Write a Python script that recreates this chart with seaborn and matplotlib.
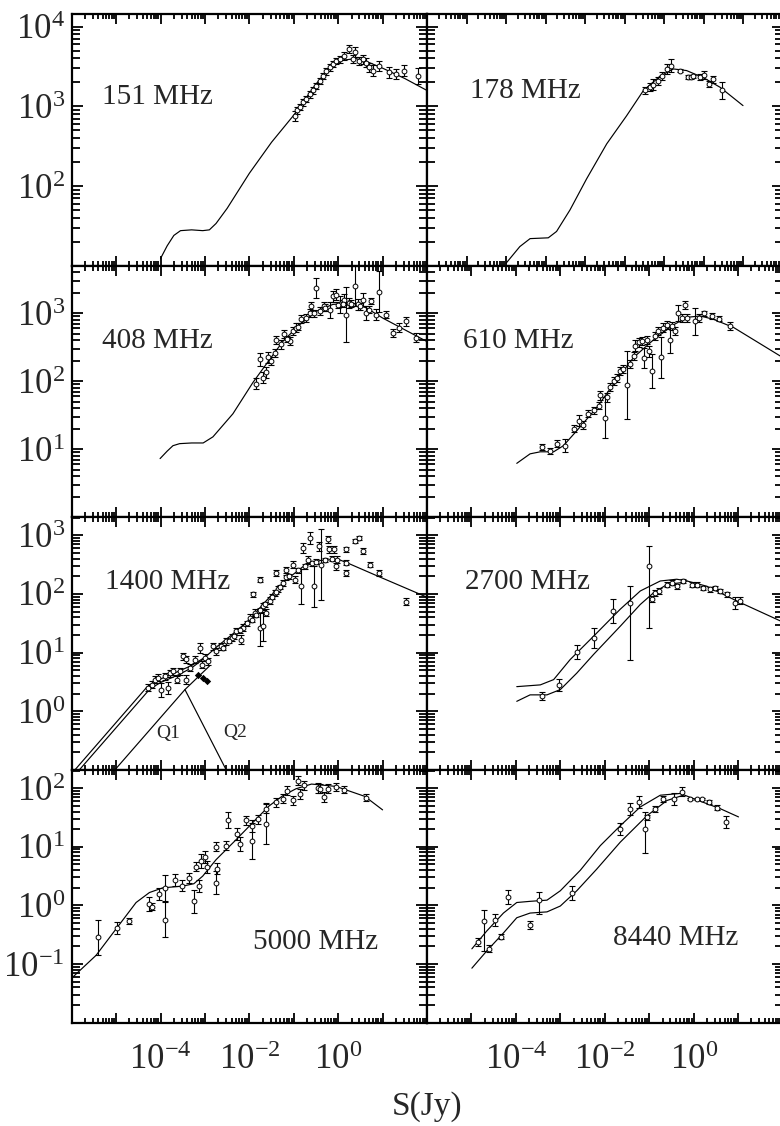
import numpy as np
import matplotlib
matplotlib.use("Agg")
import matplotlib.pyplot as plt
import seaborn as sns
from matplotlib.ticker import FixedLocator, LogLocator, NullFormatter

# ---------- DATA (log10 S[Jy], log10 counts) ----------
# model curves
c151_s = [-4.0, -3.85, -3.7, -3.55, -3.3, -3.05, -2.9, -2.75, -2.5, -2.0, -1.5, -1.0, -0.5, -0.2, 0.1, 0.4, 0.7, 1.0, 1.5, 2.0]
c151_n = [1.09, 1.25, 1.38, 1.44, 1.45, 1.44, 1.45, 1.53, 1.72, 2.16, 2.55, 2.89, 3.28, 3.48, 3.58, 3.60, 3.55, 3.48, 3.35, 3.20]

c178_s = [-4.0, -3.65, -3.39, -2.93, -2.72, -2.38, -1.96, -1.45, -0.95, -0.52, -0.10, 0.24, 0.57, 1.0, 1.42, 2.0]
c178_n = [1.03, 1.24, 1.34, 1.35, 1.43, 1.70, 2.09, 2.53, 2.88, 3.20, 3.38, 3.47, 3.45, 3.36, 3.24, 3.01]

c408_s = [-4.01, -3.85, -3.72, -3.57, -3.3, -3.04, -2.82, -2.37, -1.92, -1.62, -1.24, -0.87, -0.49, -0.12, 0.33, 0.63, 1.0, 1.98]
c408_n = [0.86, 0.97, 1.05, 1.08, 1.09, 1.09, 1.18, 1.52, 1.98, 2.25, 2.59, 2.83, 3.03, 3.13, 3.15, 3.08, 2.93, 2.59]

c610_s = [-3.98, -3.68, -3.45, -3.15, -2.93, -2.63, -2.18, -1.80, -1.35, -0.90, -0.45, -0.15, 0.15, 0.45, 0.90, 1.35, 1.95]
c610_n = [0.79, 0.93, 0.96, 0.96, 1.05, 1.27, 1.61, 1.96, 2.35, 2.61, 2.83, 2.94, 2.96, 2.91, 2.79, 2.61, 2.37]

c1400a_s = [-5.93, -4.31, -4.0, -3.6, -3.3, -3.0, -2.7, -2.4, -2.0, -1.6, -1.2, -0.8, -0.4, 0.0, 0.2, 0.9, 1.98]
c1400a_n = [-1.0, 0.41, 0.55, 0.68, 0.78, 0.92, 1.12, 1.30, 1.56, 1.90, 2.22, 2.46, 2.57, 2.59, 2.53, 2.30, 1.95]
c1400b_s = [-5.83, -4.24, -4.0, -3.6, -3.3, -3.0]
c1400b_n = [-1.0, 0.38, 0.49, 0.62, 0.74, 0.91]
q1_s = [-5.03, -3.45, -2.9]
q1_n = [-1.0, 0.37, 0.77]
q2_s = [-3.45, -2.52]
q2_n = [0.37, -1.0]

c2700u_s = [-3.98, -3.45, -3.15, -2.78, -2.25, -1.65, -1.20, -0.75, -0.38, -0.15, 0.30, 0.97, 1.95]
c2700u_n = [0.42, 0.45, 0.54, 0.88, 1.28, 1.74, 2.05, 2.22, 2.25, 2.22, 2.13, 1.88, 1.54]
c2700l_s = [-3.98, -3.68, -3.30, -3.0, -2.63, -2.25, -1.65, -1.20, -0.90, -0.60, -0.30, -0.15]
c2700l_n = [0.17, 0.28, 0.28, 0.37, 0.65, 0.97, 1.45, 1.82, 2.02, 2.16, 2.19, 2.22]

c5000_s = [-6.0, -5.45, -5.0, -4.55, -4.25, -3.95, -3.5, -3.25, -3.05, -2.75, -2.3, -1.85, -1.55, -1.25, -0.95, -0.6, -0.05, 0.6, 1.0]
c5000_n = [-1.24, -0.85, -0.40, 0.05, 0.22, 0.30, 0.33, 0.37, 0.50, 0.78, 1.12, 1.47, 1.70, 1.87, 1.99, 2.07, 2.03, 1.86, 1.63]

c8440u_s = [-4.99, -4.66, -4.28, -3.98, -3.68, -3.30, -3.0, -2.55, -2.10, -1.65, -1.20, -0.75, -0.30, 0.0, 0.60, 1.01]
c8440u_n = [-0.74, -0.44, -0.13, 0.05, 0.07, 0.09, 0.25, 0.60, 1.02, 1.36, 1.68, 1.88, 1.91, 1.82, 1.65, 1.51]
c8440l_s = [-4.99, -4.66, -4.28, -3.98, -3.68, -3.30, -3.0, -2.63, -2.18, -1.65, -1.05, -0.60, -0.23]
c8440l_n = [-1.07, -0.78, -0.47, -0.21, -0.13, -0.11, -0.01, 0.25, 0.62, 1.08, 1.53, 1.79, 1.88]

# measured counts: (log S, log N, err) or (log S, log N, err_lo, err_hi)
d151 = [(-0.98, 2.88, .06), (-0.92, 2.95, .04), (-0.87, 2.99, .04), (-0.79, 3.05, .04), (-0.72, 3.09, .04),
        (-0.64, 3.15, .04), (-0.57, 3.20, .04), (-0.49, 3.26, .04), (-0.42, 3.32, .04), (-0.34, 3.38, .04),
        (-0.27, 3.44, .04), (-0.19, 3.49, .04), (-0.12, 3.53, .04), (-0.04, 3.57, .04), (0.03, 3.59, .04),
        (0.14, 3.63, .05), (0.25, 3.72, .05), (0.33, 3.59, .05), (0.39, 3.68, .06), (0.46, 3.57, .05),
        (0.55, 3.59, .06), (0.63, 3.55, .06), (0.70, 3.49, .06), (0.78, 3.45, .07), (0.93, 3.51, .06),
        (1.14, 3.43, .07), (1.30, 3.41, .06), (1.49, 3.45, .07), (1.79, 3.38, .10)]

d178 = [(-0.48, 3.20, .04), (-0.35, 3.24, .05), (-0.27, 3.27, .07), (-0.14, 3.32, .05), (-0.05, 3.38, .05),
        (0.07, 3.47, .06), (0.17, 3.51, .08), (0.41, 3.45, .02), (0.62, 3.37, .02), (0.68, 3.37, .02),
        (0.74, 3.38, .02), (0.91, 3.37, .04), (1.01, 3.40, .05), (1.14, 3.28, .04), (1.25, 3.34, .04),
        (1.46, 3.20, .11)]

d408 = [(-1.86, 1.96, .08), (-1.77, 2.32, .10), (-1.69, 2.05, .08), (-1.62, 2.13, .08), (-1.58, 2.35, .08),
        (-1.51, 2.30, .06), (-1.43, 2.42, .06), (-1.39, 2.61, .06), (-1.28, 2.54, .06), (-1.21, 2.69, .06),
        (-1.09, 2.59, .06), (-1.02, 2.74, .06), (-0.94, 2.79, .06), (-0.83, 2.91, .06), (-0.73, 2.93, .06),
        (-0.64, 3.00, .06), (-0.61, 3.10, .06), (-0.49, 3.37, .15), (-0.42, 3.03, .06), (-0.31, 3.10, .06),
        (-0.19, 3.05, .12), (-0.12, 3.25, .08), (-0.04, 3.27, .08), (0.03, 3.13, .12), (0.14, 3.20, .08),
        (0.18, 2.98, .40), (0.25, 3.15, .08), (0.37, 3.40, .30), (0.44, 3.13, .08), (0.55, 3.20, .10),
        (0.63, 3.00, .10), (0.74, 3.18, .05), (0.85, 2.98, .08), (0.91, 3.32, .30), (1.08, 2.98, .05),
        (1.23, 2.71, .06), (1.38, 2.79, .06), (1.53, 2.88, .07), (1.75, 2.64, .07),
        (-1.15, 2.62, .05), (-0.90, 2.80, .05), (-0.55, 3.00, .05), (-0.30, 3.08, .05), (0.00, 3.12, .05),
        (0.10, 3.14, .05), (0.30, 3.14, .05), (0.50, 3.10, .05), (0.70, 3.05, .05)]

d610 = [(-3.42, 1.03, .05), (-3.24, 0.97, .04), (-3.08, 1.08, .05), (-2.89, 1.05, .10), (-2.70, 1.30, .05),
        (-2.57, 1.42, .08), (-2.48, 1.35, .06), (-2.37, 1.52, .05), (-2.25, 1.57, .05), (-2.14, 1.64, .05),
        (-2.10, 1.79, .06), (-2.00, 1.46, .30), (-1.95, 1.76, .06), (-1.88, 1.91, .06), (-1.80, 2.00, .06),
        (-1.73, 2.05, .06), (-1.65, 2.15, .06), (-1.58, 2.18, .06), (-1.49, 1.95, .50), (-1.43, 2.25, .06),
        (-1.35, 2.37, .06), (-1.32, 2.52, .08), (-1.24, 2.57, .06), (-1.17, 2.59, .06), (-1.11, 2.34, .15),
        (-1.05, 2.61, .06), (-1.00, 2.44, .08), (-0.94, 2.15, .25), (-0.86, 2.66, .06), (-0.81, 2.74, .06),
        (-0.74, 2.35, .30), (-0.68, 2.79, .06), (-0.60, 2.83, .06), (-0.54, 2.61, .20), (-0.49, 2.81, .06),
        (-0.41, 2.74, .06), (-0.36, 3.00, .12), (-0.26, 2.93, .06), (-0.20, 3.12, .06), (-0.15, 2.93, .06),
        (0.04, 2.88, .20), (0.13, 2.93, .06), (0.24, 3.00, .04), (0.41, 2.96, .04), (0.56, 2.92, .04),
        (0.82, 2.81, .06)]

d1400 = [(-4.28, 0.40, .06), (-4.20, 0.45, .06), (-4.13, 0.54, .06), (-4.05, 0.57, .06), (-3.98, 0.37, .12),
         (-3.90, 0.60, .06), (-3.83, 0.40, .10), (-3.79, 0.65, .06), (-3.72, 0.68, .06), (-3.64, 0.54, .06),
         (-3.57, 0.68, .06), (-3.49, 0.94, .06), (-3.43, 0.89, .06), (-3.42, 0.54, .08), (-3.34, 0.74, .06),
         (-3.23, 0.88, .06), (-3.12, 1.08, .08), (-3.06, 0.79, .06), (-3.00, 0.91, .06), (-2.93, 0.85, .06),
         (-2.82, 1.11, .06), (-2.74, 1.02, .06), (-2.63, 1.11, .06), (-2.52, 1.19, .06), (-2.40, 1.25, .06),
         (-2.29, 1.36, .06), (-2.18, 1.22, .08), (-2.14, 1.42, .06), (-1.99, 1.59, .06), (-1.88, 1.68, .06),
         (-1.77, 1.42, .30), (-1.69, 1.79, .06),
         (-1.92, 1.99, .04), (-1.62, 1.68, .06), (-1.69, 1.45, .25), (-1.54, 1.88, .06), (-1.43, 2.02, .05),
         (-1.36, 2.08, .05), (-1.24, 2.19, .05), (-1.17, 2.28, .05),
         (-1.77, 2.24, .04), (-1.39, 2.36, .05), (-1.17, 2.41, .05), (-1.02, 2.50, .06), (-0.98, 2.24, .06),
         (-0.84, 2.13, .30), (-0.80, 2.78, .08), (-0.69, 2.58, .06), (-0.63, 2.95, .10), (-0.54, 2.13, .35),
         (-0.43, 2.81, .08), (-0.39, 2.50, .60), (-0.24, 2.93, .06), (-0.20, 2.76, .06), (-0.09, 2.76, .06),
         (-0.05, 2.47, .06), (-0.02, 2.58, .06), (0.18, 2.76, .04), (0.18, 2.53, .04), (0.18, 2.36, .05),
         (0.37, 2.90, .04), (0.47, 2.95, .04), (0.56, 2.73, .05), (0.72, 2.50, .05), (0.92, 2.36, .05),
         (1.53, 1.87, .06),
         (-2.60, 1.08, .04), (-2.45, 1.20, .04), (-2.35, 1.28, .04), (-2.20, 1.38, .04), (-2.05, 1.50, .04),
         (-1.95, 1.56, .04), (-1.85, 1.64, .04), (-1.75, 1.72, .04), (-1.65, 1.82, .04), (-1.50, 1.95, .04),
         (-1.40, 2.03, .04), (-1.30, 2.12, .04), (-1.10, 2.30, .04), (-0.90, 2.40, .04), (-0.75, 2.47, .04),
         (-0.60, 2.52, .04), (-0.50, 2.55, .04), (-0.30, 2.58, .04), (-0.15, 2.60, .04)]
d1400_filled = [(-3.15, 0.62), (-3.04, 0.57), (-2.95, 0.52)]

d2700 = [(-3.42, 0.26, .07, .07), (-3.02, 0.45, .10, .10), (-2.63, 1.01, .12, .12), (-2.24, 1.25, .17, .17),
         (-1.82, 1.71, .20, .20), (-1.43, 1.85, .97, .28), (-1.00, 2.47, 1.05, .35), (-0.94, 1.91, .05, .05),
         (-0.86, 2.02, .05, .05), (-0.79, 2.05, .05, .05), (-0.60, 2.16, .05, .05), (-0.49, 2.19, .04, .04),
         (-0.38, 2.13, .04, .04), (-0.23, 2.22, .04, .04), (-0.04, 2.16, .04, .04), (0.07, 2.16, .04, .04),
         (0.22, 2.10, .04, .04), (0.37, 2.08, .04, .04), (0.49, 2.10, .04, .04), (0.60, 2.05, .04, .04),
         (0.75, 1.99, .05, .05), (0.94, 1.85, .10, .10), (1.05, 1.88, .06, .06)]

d5000 = [(-5.40, -0.54, .30), (-4.99, -0.38, .10), (-4.70, -0.27, .05), (-4.26, 0.02, .12), (-4.20, -0.02, .06),
         (-4.03, 0.19, .10), (-3.89, 0.30, .22), (-3.90, -0.24, .30), (-3.68, 0.43, .10), (-3.51, 0.34, .10),
         (-3.36, 0.47, .08), (-3.24, 0.07, .20), (-3.21, 0.66, .08), (-3.14, 0.33, .10), (-3.08, 0.76, .12),
         (-3.00, 0.82, .10), (-2.95, 0.65, .10), (-2.76, 1.00, .08), (-2.76, 0.39, .20), (-2.72, 0.63, .10),
         (-2.53, 1.02, .08), (-2.47, 1.46, .14), (-2.27, 1.22, .10), (-2.22, 1.05, .12), (-2.07, 1.45, .08),
         (-1.93, 1.10, .30), (-1.93, 1.36, .10), (-1.81, 1.47, .08), (-1.62, 1.65, .08), (-1.62, 1.39, .35),
         (-1.39, 1.76, .08), (-1.24, 1.82, .08), (-1.15, 1.96, .08), (-1.02, 1.79, .08), (-0.91, 2.13, .08),
         (-0.87, 1.90, .08), (-0.76, 2.05, .08), (-0.46, 2.00, .08), (-0.42, 1.99, .08), (-0.31, 1.85, .08),
         (-0.24, 1.99, .08), (-0.04, 2.02, .06), (0.14, 1.97, .06), (0.63, 1.84, .06)]

d8440 = [(-4.86, -0.63, .07, .07), (-4.71, -0.27, .50, .20), (-4.60, -0.74, .06, .06), (-4.47, -0.25, .10, .10),
         (-4.33, -0.53, .04, .04), (-4.18, 0.14, .12, .12), (-3.68, -0.34, .07, .07), (-3.47, 0.09, .23, .14),
         (-2.74, 0.21, .12, .12), (-1.65, 1.30, .10, .10), (-1.44, 1.65, .10, .10), (-1.24, 1.76, .10, .10),
         (-1.09, 1.30, .40, .29), (-1.05, 1.50, .05, .05), (-0.86, 1.65, .05, .05), (-0.68, 1.82, .05, .05),
         (-0.45, 1.82, .10, .10), (-0.26, 1.94, .08, .08), (-0.08, 1.81, .02, .02), (0.07, 1.81, .02, .02),
         (0.19, 1.81, .02, .02), (0.34, 1.76, .03, .03), (0.52, 1.67, .04, .04), (0.73, 1.42, .10, .10)]

freq_labels = ["151 MHz", "178 MHz", "408 MHz", "610 MHz", "1400 MHz", "2700 MHz", "5000 MHz", "8440 MHz"]

# ---------- STYLE ----------
sns.set_theme(style="ticks")
plt.rcParams['font.family'] = ['Liberation Serif', 'DejaVu Serif']
plt.rcParams['mathtext.fontset'] = 'custom'
plt.rcParams['mathtext.rm'] = 'Liberation Serif'
plt.rcParams['mathtext.it'] = 'Liberation Serif:italic'
plt.rcParams['axes.linewidth'] = 1.6

W, H = 780, 1126
fig = plt.figure(figsize=(W / 100, H / 100), dpi=100)

col_px = [(71.7, 427.0), (427.0, 782.5)]
row_px = [(14.0, 265.7), (265.7, 517.0), (517.0, 770.0), (770.0, 1022.7)]
ydec = [(1, 4.16), (0, 3.70), (-1, 3.31), (-2, 2.31)]
label_pos = [(0.085, 0.67), (0.121, 0.694), (0.085, 0.70), (0.101, 0.70),
             (0.094, 0.743), (0.107, 0.743), (0.51, 0.319), (0.523, 0.335)]


def pw(v):
    return 10.0 ** np.asarray(v, dtype=float)


def curve(ax, s, n):
    sns.lineplot(x=pw(s), y=pw(n), ax=ax, color="black", lw=0.85,
                 sort=False, estimator=None)


def points(ax, pts):
    s = np.array([p[0] for p in pts])
    n = np.array([p[1] for p in pts])
    lo = np.array([p[2] for p in pts])
    hi = np.array([p[3] if len(p) > 3 else p[2] for p in pts])
    N = pw(n)
    yerr = [N - N * 10 ** (-lo), N * 10 ** hi - N]
    ax.errorbar(pw(s), N, yerr=yerr, fmt="none", ecolor="black",
                elinewidth=0.8, capsize=2.4, capthick=0.8, zorder=2)
    sns.scatterplot(x=pw(s), y=N, ax=ax, marker="o", s=12, color="white",
                    edgecolor="black", linewidth=0.7, zorder=3)


def make_ax(r, c):
    x0, x1 = col_px[c]
    y0, y1 = row_px[r]
    ax = fig.add_axes([x0 / W, 1 - y1 / H, (x1 - x0) / W, (y1 - y0) / H])
    ax.set_xscale("log")
    ax.set_yscale("log")
    xhi = 3 if (r == 0 and c == 1) else 2
    ax.set_xlim(1e-6, 10.0 ** xhi)
    lo, hi = ydec[r]
    ax.set_ylim(10.0 ** lo, 10.0 ** hi)
    return ax


def style_ax(ax, r, c):
    xhi = 3 if (r == 0 and c == 1) else 2
    xt = 10.0 ** np.arange(-6, xhi + 1)
    ax.xaxis.set_major_locator(FixedLocator(xt))
    ax.xaxis.set_minor_locator(LogLocator(base=10, subs=np.arange(2, 10), numticks=100))
    if r == 3:
        ax.set_xticklabels([r"$\mathregular{10^{%d}}$" % k if k in (-4, -2, 0) else ""
                            for k in range(-6, xhi + 1)])
    else:
        ax.set_xticklabels([])
    lo, hi = ydec[r]
    ydecs = list(range(lo, int(np.floor(hi)) + 1))
    ax.yaxis.set_major_locator(FixedLocator(10.0 ** np.array(ydecs, dtype=float)))
    ax.yaxis.set_minor_locator(LogLocator(base=10, subs=np.arange(2, 10), numticks=100))
    if c == 0:
        ax.set_yticklabels(["" if k == lo else r"$\mathregular{10^{%d}}$" % k for k in ydecs])
    else:
        ax.set_yticklabels([])
    ax.xaxis.set_minor_formatter(NullFormatter())
    ax.yaxis.set_minor_formatter(NullFormatter())
    ax.tick_params(which="both", direction="in", top=True, right=True,
                   width=1.3, color="black", labelsize=25)
    ax.tick_params(axis="x", which="major", length=7, pad=15)
    ax.tick_params(axis="x", which="minor", length=3.5)
    ax.tick_params(axis="y", which="major", length=8, pad=5)
    ax.tick_params(axis="y", which="minor", length=5.5)
    for sp in ax.spines.values():
        sp.set_linewidth(1.6)
        sp.set_color("black")
    ax.set_xlabel("")
    ax.set_ylabel("")
    ax.set_facecolor("white")


axes = {}
for r in range(4):
    for c in range(2):
        axes[(r, c)] = make_ax(r, c)

# 151 MHz
ax = axes[(0, 0)]
curve(ax, c151_s, c151_n)
points(ax, d151)
# 178 MHz
ax = axes[(0, 1)]
curve(ax, c178_s, c178_n)
points(ax, d178)
# 408 MHz
ax = axes[(1, 0)]
curve(ax, c408_s, c408_n)
points(ax, d408)
# 610 MHz
ax = axes[(1, 1)]
curve(ax, c610_s, c610_n)
points(ax, d610)
# 1400 MHz
ax = axes[(2, 0)]
curve(ax, c1400a_s, c1400a_n)
curve(ax, c1400b_s, c1400b_n)
curve(ax, q1_s, q1_n)
curve(ax, q2_s, q2_n)
points(ax, d1400)
sns.scatterplot(x=pw([p[0] for p in d1400_filled]), y=pw([p[1] for p in d1400_filled]),
                ax=ax, marker="D", s=14, color="black", linewidth=0, zorder=4)
ax.text(0.271, 0.146, "Q1", transform=ax.transAxes, fontsize=14, ha="center", va="center")
ax.text(0.46, 0.15, "Q2", transform=ax.transAxes, fontsize=14, ha="center", va="center")
# 2700 MHz
ax = axes[(2, 1)]
curve(ax, c2700u_s, c2700u_n)
curve(ax, c2700l_s, c2700l_n)
points(ax, d2700)
# 5000 MHz
ax = axes[(3, 0)]
curve(ax, c5000_s, c5000_n)
points(ax, d5000)
# 8440 MHz
ax = axes[(3, 1)]
curve(ax, c8440u_s, c8440u_n)
curve(ax, c8440l_s, c8440l_n)
points(ax, d8440)

for i, (key, ax) in enumerate(sorted(axes.items())):
    r, c = key
    style_ax(ax, r, c)
    lx, ly = label_pos[i]
    ax.text(lx, ly, freq_labels[i], transform=ax.transAxes, fontsize=21,
            ha="left", va="center")
    leg = ax.get_legend()
    if leg is not None:
        leg.remove()

fig.text(427 / W, 1 - 1107 / H, "S(Jy)", fontsize=24, ha="center", va="center")

fig.savefig("out.png", dpi=100, facecolor="white")
